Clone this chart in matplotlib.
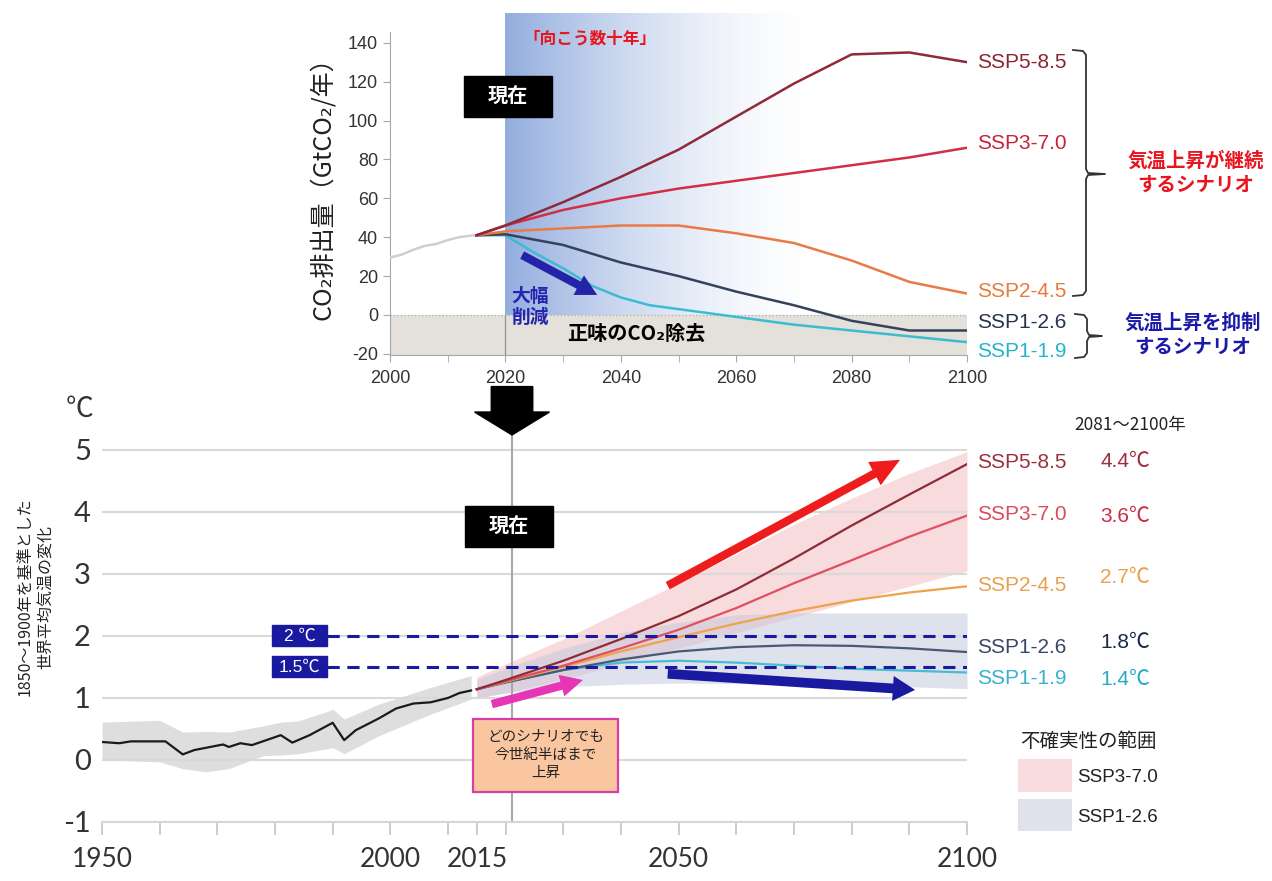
import matplotlib.pyplot as plt
import numpy as np
from matplotlib import font_manager
from matplotlib.patches import Rectangle, Polygon, FancyArrowPatch

# fonts
JP = ['Noto Sans CJK JP', 'DejaVu Sans']
_installed = {f.name for f in font_manager.fontManager.ttflist}
HAS_NARROW = 'Liberation Sans Narrow' in _installed
NARROW = ['Liberation Sans Narrow' if HAS_NARROW else 'Liberation Sans', 'Noto Sans CJK JP', 'DejaVu Sans']
LBL = 17.5 if HAS_NARROW else 15
plt.rcParams['font.family'] = JP
plt.rcParams['axes.unicode_minus'] = False

# ---- CO2 emissions (GtCO2 / yr)
co2_hist_years = [2000, 2002, 2004, 2006, 2008, 2010, 2012, 2014, 2015]
co2_hist = [29.5, 31, 33.5, 35.5, 36.5, 38.5, 40, 40.8, 41]
co2_years = [2015, 2020, 2030, 2040, 2050, 2060, 2070, 2080, 2090, 2100]
co2_ssp585 = [41, 46, 58, 71, 85, 102, 119, 134, 135, 130]
co2_ssp370 = [41, 46, 54, 60, 65, 69, 73, 77, 81, 86]
co2_ssp245 = [41, 43, 44.5, 46, 46, 42, 37, 28, 17, 11]
co2_ssp126 = [41, 41.5, 36, 27, 20, 12, 5, -3, -8, -8]
co2_years_119 = [2015, 2020, 2025, 2030, 2035, 2040, 2045, 2050, 2060, 2070, 2080, 2090, 2100]
co2_ssp119 = [41, 41, 32, 24, 15, 9, 5, 3, -1, -5, -8, -11, -14]

# ---- temperature change vs 1850-1900 (degC)
temp_hist_years = [1950, 1953, 1955, 1961, 1964, 1966, 1971, 1972, 1974, 1976, 1981, 1983, 1986,
                   1990, 1992, 1994, 1998, 2001, 2004, 2007, 2010, 2012, 2014]
temp_hist = [0.29, 0.27, 0.30, 0.30, 0.09, 0.16, 0.25, 0.21, 0.27, 0.24, 0.40, 0.28, 0.40,
             0.60, 0.32, 0.48, 0.67, 0.83, 0.91, 0.93, 1.00, 1.08, 1.12]
band_hist_years = [1950, 1960, 1964, 1968, 1972, 1978, 1981, 1984, 1989, 1990, 1992, 1998, 2007, 2014]
band_hist_hi = [0.61, 0.64, 0.45, 0.46, 0.45, 0.55, 0.61, 0.63, 0.78, 0.82, 0.66, 0.90, 1.17, 1.36]
band_hist_lo = [0.0, -0.03, -0.14, -0.19, -0.14, 0.07, 0.08, 0.10, 0.18, 0.20, 0.10, 0.39, 0.74, 0.98]

temp_years = [2015, 2020, 2030, 2040, 2050, 2060, 2070, 2080, 2090, 2100]
temp_ssp585 = [1.14, 1.29, 1.60, 1.95, 2.32, 2.75, 3.25, 3.78, 4.28, 4.77]
temp_ssp370 = [1.14, 1.27, 1.52, 1.80, 2.10, 2.45, 2.85, 3.22, 3.60, 3.94]
temp_ssp245 = [1.14, 1.26, 1.50, 1.75, 1.98, 2.20, 2.40, 2.57, 2.70, 2.80]
temp_ssp126 = [1.14, 1.25, 1.45, 1.62, 1.75, 1.82, 1.85, 1.84, 1.80, 1.74]
temp_ssp119 = [1.14, 1.25, 1.45, 1.57, 1.60, 1.57, 1.52, 1.47, 1.44, 1.41]
ssp370_lo = [1.00, 1.08, 1.30, 1.55, 1.80, 2.05, 2.30, 2.55, 2.80, 3.05]
ssp370_hi = [1.34, 1.55, 1.95, 2.40, 2.85, 3.32, 3.80, 4.22, 4.62, 4.97]
ssp126_lo = [1.00, 1.08, 1.18, 1.22, 1.24, 1.23, 1.22, 1.20, 1.18, 1.15]
ssp126_hi = [1.30, 1.48, 1.80, 2.05, 2.22, 2.34, 2.37, 2.37, 2.37, 2.37]

ssp_names = ['SSP5-8.5', 'SSP3-7.0', 'SSP2-4.5', 'SSP1-2.6', 'SSP1-1.9']
warming_2081_2100 = ['4.4℃', '3.6℃', '2.7℃', '1.8℃', '1.4℃']

co2_series = [co2_ssp585, co2_ssp370, co2_ssp245, co2_ssp126]
temp_series = [temp_ssp585, temp_ssp370, temp_ssp245, temp_ssp126, temp_ssp119]

top_line_c = ['#8f2a3a', '#d32e45', '#ea7a45', '#34425e', '#3cbcd0']
top_text_c = ['#8a2431', '#c8233a', '#e77a3c', '#27344e', '#24b5cc']
bot_line_c = ['#8e2b38', '#e0505e', '#efa24a', '#4a5878', '#48bcd4']
bot_text_c = ['#9c2f3c', '#dc4a5e', '#e9a04e', '#3b4766', '#35b3cb']
bot_val_c = ['#9c2f3c', '#cc2d45', '#e9a04e', '#1b2848', '#25aac3']
NAVY = '#1a1aa0'

W, H = 1272, 881


def frame(x0, y0, x1, y1):
    return [x0 / W, 1 - y1 / H, (x1 - x0) / W, (y1 - y0) / H]


def fat_arrow(ax, tail, tip, color, tw=0.6, hw=1.8, hl=1.9):
    ar = FancyArrowPatch(tail, tip, arrowstyle='simple,head_length=%s,head_width=%s,tail_width=%s' % (hl, hw, tw),
                         mutation_scale=10, color=color, lw=0, shrinkA=0, shrinkB=0,
                         clip_on=False, zorder=6)
    ax.add_patch(ar)


fig = plt.figure(figsize=(12.72, 8.81), dpi=100)

# =================== top: CO2 emissions ===================
ax1 = fig.add_axes(frame(390, 13, 967, 355))
ax1.patch.set_visible(False)

grad = np.zeros((1, 256, 4))
grad[..., 0], grad[..., 1], grad[..., 2] = 0.50, 0.62, 0.85
grad[..., 3] = 0.85 * (1 - np.linspace(0, 1, 256)) ** 1.6
ax1.imshow(grad, extent=[2020, 2074, 0, 155.3], aspect='auto', origin='lower',
           interpolation='bilinear', zorder=0)
ax1.axhspan(-20.6, 0, color='#e3e1d9', zorder=0, lw=0)
ax1.axhline(0, color='#b5b5b5', lw=1, ls=(0, (1, 1.5)), zorder=1)
ax1.plot([2020, 2020], [-20.6, 0], color='#9a9a9a', lw=1, zorder=1)

ax1.plot(co2_hist_years, co2_hist, color='#cfcfcf', lw=1.8, zorder=3)
ax1.plot(co2_years_119, co2_ssp119, color=top_line_c[4], lw=1.8, zorder=3)
for vals, c in zip(co2_series[::-1], top_line_c[3::-1]):
    ax1.plot(co2_years, vals, color=c, lw=1.8, zorder=3)

ax1.set_xlim(2000, 2100)
ax1.set_ylim(-20.6, 155.3)
for s in ['top', 'right']:
    ax1.spines[s].set_visible(False)
ax1.spines['left'].set_bounds(-20.6, 145.5)
ax1.spines['left'].set_color('#a8a8a8')
ax1.spines['bottom'].set_color('#a8a8a8')
ax1.set_yticks(range(-20, 141, 20))
ax1.set_xticks(range(2000, 2101, 20))
ax1.set_xticks(range(2010, 2100, 20), minor=True)
ax1.tick_params(which='both', length=5, color='#a8a8a8', labelcolor='#333333', labelsize=13)
ax1.tick_params(axis='x', pad=6)
for t in ax1.get_xticklabels() + ax1.get_yticklabels():
    t.set_fontfamily('Liberation Sans')

end_y = [130, 88.4, 12.3, -4.1, -19.0]
for name, y, c in zip(ssp_names, end_y, top_text_c):
    ax1.text(2101.8, y, name, color=c, fontsize=LBL, family=NARROW, ha='left', va='center')

ax1.text(2034.7, 142.4, '「向こう数十年」', color='#e8141e', fontsize=12, fontweight='bold',
         ha='center', va='center')
ax1.add_patch(Rectangle((2012.8, 101.9), 15.3, 21.0, color='black', zorder=5, clip_on=False))
ax1.text(2020.45, 112.4, '現在', color='white', fontsize=14.5, fontweight='bold',
         ha='center', va='center', zorder=6)
ax1.text(2021.1, 4.1, '大幅\n削減', color='#2424b0', fontsize=13.5, fontweight='bold',
         ha='left', va='center', linespacing=1.15, zorder=6)
fat_arrow(ax1, (2022.9, 30.8), (2035.9, 10.3), '#2424a8', tw=0.6, hw=1.6, hl=1.5)
ax1.text(2042.6, -9.3, '正味のCO₂除去', color='black', fontsize=14.5, fontweight='bold',
         ha='center', va='center', zorder=6)

# =================== bottom: temperature ===================
ax2 = fig.add_axes(frame(102, 430, 967, 822))
ax2.patch.set_visible(False)
ax2.set_xlim(1950, 2100)
ax2.set_ylim(-1, 5.32)

ax2.fill_between(band_hist_years, band_hist_lo, band_hist_hi, color='#dedede', lw=0, zorder=1)
ax2.plot(temp_hist_years, temp_hist, color='#1a1a1a', lw=1.6, zorder=3)

ax2.fill_between(temp_years, ssp370_lo, ssp370_hi, color='#f4c3c6', alpha=0.6, lw=0, zorder=1)
ax2.fill_between(temp_years, ssp126_lo, ssp126_hi, color='#bfc7db', alpha=0.5, lw=0, zorder=1)
for vals, c in zip(temp_series[::-1], bot_line_c[::-1]):
    ax2.plot(temp_years, vals, color=c, lw=1.6, zorder=3)

# 2 and 1.5 degree thresholds
for lvl, txt in [(2.0, '2 ℃'), (1.5, '1.5℃')]:
    ax2.plot([1989, 2100], [lvl, lvl], color=NAVY, lw=2.2, dashes=(4, 2.5), zorder=4)
    ax2.add_patch(Rectangle((1979.5, lvl - 0.17), 9.5, 0.34, color=NAVY, zorder=5, clip_on=False))
    ax2.text(1984.25, lvl, txt, color='white', fontsize=12.5, family=NARROW,
             ha='center', va='center', zorder=6)

# present line + big arrow
ax2.plot([2021.1, 2021.1], [-1, 5.24], color='#a8a8a8', lw=1.5, zorder=2, clip_on=False)
cx = 2021.1
ax2.add_patch(Polygon([(cx - 3.6, 6.02), (cx + 3.6, 6.02), (cx + 3.6, 5.61), (cx + 6.5, 5.61),
                       (cx, 5.24), (cx - 6.5, 5.61), (cx - 3.6, 5.61)],
                      closed=True, color='black', zorder=6, clip_on=False))
ax2.add_patch(Rectangle((2012.9, 3.44), 15.3, 0.66, color='black', zorder=5, clip_on=False))
ax2.text(2020.55, 3.77, '現在', color='white', fontsize=14.5, fontweight='bold',
         ha='center', va='center', zorder=6)

fat_arrow(ax2, (2048.1, 2.81), (2088.4, 4.84), '#ee1c1c', tw=0.6, hw=1.9, hl=2.1)
fat_arrow(ax2, (2017.6, 0.90), (2033.4, 1.29), '#e635b5', tw=0.6, hw=1.6, hl=1.6)
fat_arrow(ax2, (2048.1, 1.39), (2091.0, 1.13), NAVY, tw=0.7, hw=1.8, hl=1.6)

ax2.add_patch(Rectangle((2014.3, -0.51), 25.2, 1.17, fc='#f9c6a0', ec='#d63fa8', lw=1.6, zorder=5))
ax2.text(2026.9, 0.08, 'どのシナリオでも\n今世紀半ばまで\n上昇', color='#222222', fontsize=10.5,
         ha='center', va='center', linespacing=1.35, zorder=6)

# right-hand labels
lab_y = [4.79, 3.95, 2.82, 1.81, 1.32]
val_y = [4.81, 3.92, 2.94, 1.89, 1.29]
for name, w, ly, vy, c1, c2 in zip(ssp_names, warming_2081_2100, lab_y, val_y, bot_text_c, bot_val_c):
    ax2.text(2101.7, ly, name, color=c1, fontsize=LBL, family=NARROW, ha='left', va='center')
    ax2.text(2123.1, vy, w, color=c2, fontsize=LBL, family=NARROW, ha='left', va='center')
ax2.text(2128.3, 5.40, '2081～2100年', color='#222222', fontsize=12.5, ha='center', va='center')

# legend for uncertainty ranges
ax2.text(2109.2, 0.29, '不確実性の範囲', color='#222222', fontsize=14, ha='left', va='center')
ax2.add_patch(Rectangle((2108.8, -0.51), 9.4, 0.53, color='#f8dcde', lw=0, clip_on=False))
ax2.add_patch(Rectangle((2108.8, -1.14), 9.4, 0.51, color='#dfe2ea', lw=0, clip_on=False))
ax2.text(2119.1, -0.29, ssp_names[1], color='#222222', fontsize=LBL - 1.5, family=NARROW, ha='left', va='center')
ax2.text(2119.1, -0.93, ssp_names[3], color='#222222', fontsize=LBL - 1.5, family=NARROW, ha='left', va='center')

# axes cosmetics
for s in ['top', 'right', 'left']:
    ax2.spines[s].set_visible(False)
ax2.spines['bottom'].set_color('#d6d6d6')
ax2.spines['bottom'].set_linewidth(1.5)
ax2.set_yticks(range(-1, 6))
ax2.grid(axis='y', color='#d9d9d9', lw=1.5, zorder=0)
ax2.set_xticks([1950, 2000, 2015, 2050, 2100])
ax2.set_xticks([1960, 1970, 1980, 1990, 2010, 2020, 2030, 2040, 2060, 2070, 2080, 2090], minor=True)
ax2.tick_params(axis='x', which='both', length=9, width=1.3, color='#c8c8c8', pad=9,
                labelsize=19, labelcolor='#333333')
ax2.tick_params(axis='y', length=0, pad=8, labelsize=21, labelcolor='#333333')
for t in ax2.get_xticklabels() + ax2.get_yticklabels():
    t.set_fontfamily('Lato')

# =================== overlay: braces, axis titles ===================
ov = fig.add_axes([0, 0, 1, 1])
ov.set_xlim(0, W)
ov.set_ylim(H, 0)
ov.axis('off')


def brace(x0, x1, x2, y_top, y_mid, y_bot):
    xs = [x0, x1 - 3, x1, x1, x1 + 2, x2, x1 + 2, x1, x1, x1 - 3, x0]
    ys = [y_top, y_top + 1, y_top + 5, y_mid - 5, y_mid - 1, y_mid, y_mid + 1, y_mid + 5,
          y_bot - 5, y_bot - 1, y_bot]
    ov.plot(xs, ys, color='#333333', lw=1.3, solid_joinstyle='round')


brace(1073, 1086, 1105, 50, 174, 296)
brace(1075, 1087, 1102, 314, 336, 358)
ov.text(1196, 173, '気温上昇が継続\nするシナリオ', color='#e8141e', fontsize=14, fontweight='bold',
        ha='center', va='center', linespacing=1.3)
ov.text(1193, 335, '気温上昇を抑制\nするシナリオ', color='#1a1aa8', fontsize=14, fontweight='bold',
        ha='center', va='center', linespacing=1.3)

ov.text(323, 182, 'CO₂排出量（GtCO₂/年）', rotation=90, fontsize=18, color='#222222',
        ha='center', va='center')
ov.text(25, 597, '1850～1900年を基準とした', rotation=90, fontsize=11.5, color='#222222',
        ha='center', va='center')
ov.text(46, 597, '世界平均気温の変化', rotation=90, fontsize=11.5, color='#222222',
        ha='center', va='center')
ov.text(80, 409, '℃', fontsize=20, color='#333333', ha='center', va='center')

fig.savefig('out.png', dpi=100)
